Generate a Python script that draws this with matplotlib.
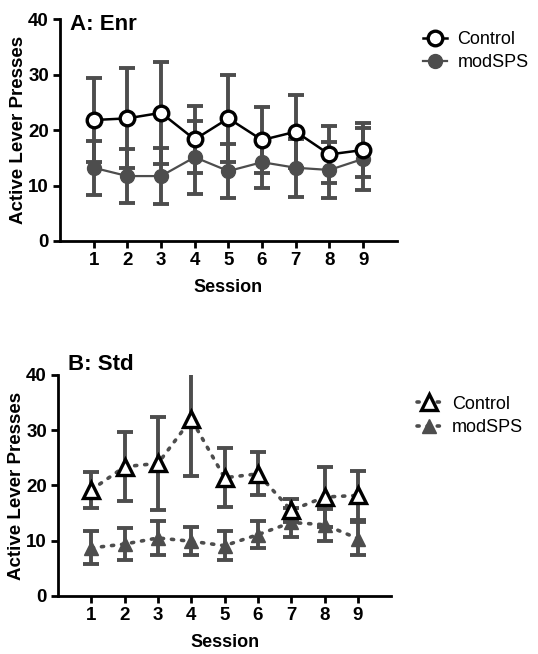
import numpy as np
import matplotlib
matplotlib.use('Agg')
import matplotlib.pyplot as plt

plt.rcParams['font.family'] = ['Liberation Sans', 'DejaVu Sans']

sessions = [1, 2, 3, 4, 5, 6, 7, 8, 9]

# Panel A: Enr
enr_ctrl_mean = [21.8, 22.1, 23.1, 18.3, 22.1, 18.2, 19.7, 15.6, 16.4]
enr_ctrl_err = [7.6, 9.0, 9.2, 6.1, 7.8, 6.0, 6.6, 5.2, 4.9]
enr_sps_mean = [13.2, 11.7, 11.7, 15.1, 12.6, 14.2, 13.2, 12.8, 14.8]
enr_sps_err = [4.9, 4.8, 5.0, 6.6, 4.9, 4.6, 5.2, 5.0, 5.6]

# Panel B: Std
std_ctrl_mean = [19.2, 23.4, 24.0, 32.0, 21.4, 22.1, 15.5, 17.9, 18.2]
std_ctrl_err = [3.2, 6.2, 8.4, 10.2, 5.3, 3.9, 2.1, 5.4, 4.4]
std_sps_mean = [8.7, 9.4, 10.5, 9.9, 9.1, 11.1, 13.3, 12.9, 10.4]
std_sps_err = [3.0, 2.9, 3.1, 2.5, 2.6, 2.5, 2.7, 2.9, 2.9]

GRAY = '#4d4d4d'


def style_axes(ax, title, title_y):
    ax.set_xlim(0, 10)
    ax.set_ylim(0, 40)
    ax.set_xticks(sessions)
    ax.set_yticks([0, 10, 20, 30, 40])
    for s in ['top', 'right']:
        ax.spines[s].set_visible(False)
    for s in ['left', 'bottom']:
        ax.spines[s].set_linewidth(2)
    ax.tick_params(width=2, length=5, labelsize=13.5, pad=3)
    for lab in ax.get_xticklabels() + ax.get_yticklabels():
        lab.set_fontweight('bold')
    ax.set_xlabel('Session', fontsize=13, fontweight='bold', labelpad=7)
    ax.set_ylabel('Active Lever Presses', fontsize=13.5, fontweight='bold', labelpad=1)
    ax.text(0.03, title_y, title, transform=ax.transAxes, fontsize=16,
            fontweight='bold', va='center', ha='left')


fig = plt.figure(figsize=(5.38, 6.54), dpi=100)

# ---------------- A ----------------
axA = fig.add_axes([0.1115, 0.6315, 0.626, 0.3394])
axA.errorbar(sessions, enr_ctrl_mean, yerr=enr_ctrl_err, fmt='none', ecolor=GRAY,
             elinewidth=2.8, capsize=6, capthick=2.8, zorder=2)
axA.errorbar(sessions, enr_sps_mean, yerr=enr_sps_err, fmt='none', ecolor=GRAY,
             elinewidth=2.8, capsize=6, capthick=2.8, zorder=2)
axA.plot(sessions, enr_sps_mean, '-o', color=GRAY, lw=1.6, ms=10,
         mfc=GRAY, mec=GRAY, zorder=3, label='modSPS')
axA.plot(sessions, enr_ctrl_mean, '-o', color='black', lw=1.8, ms=10.5,
         mfc='white', mec='black', mew=2.4, zorder=4, label='Control')
style_axes(axA, 'A: Enr', 0.975)
h, l = axA.get_legend_handles_labels()
axA.legend(h[::-1], l[::-1], loc='upper left', bbox_to_anchor=(1.03, 1.02),
           frameon=False, fontsize=13, handlelength=1.3, handletextpad=0.6,
           labelspacing=0.35)

# ---------------- B ----------------
dot = (0, (0.6, 2.2))
axB = fig.add_axes([0.108, 0.0887, 0.619, 0.338])
axB.errorbar(sessions, std_ctrl_mean, yerr=std_ctrl_err, fmt='none', ecolor=GRAY,
             elinewidth=2.8, capsize=6, capthick=2.8, zorder=2)
axB.errorbar(sessions, std_sps_mean, yerr=std_sps_err, fmt='none', ecolor=GRAY,
             elinewidth=2.8, capsize=6, capthick=2.8, zorder=2)
axB.plot(sessions, std_sps_mean, marker='^', linestyle=dot, color=GRAY, lw=2.6,
         ms=10, mfc=GRAY, mec=GRAY, dash_capstyle='round', zorder=3, label='modSPS')
axB.plot(sessions, std_ctrl_mean, marker='^', linestyle=dot, color=GRAY, lw=2.6,
         ms=11, mfc='white', mec='black', mew=2.4, dash_capstyle='round', zorder=4,
         label='Control')
style_axes(axB, 'B: Std', 1.045)
h, l = axB.get_legend_handles_labels()
axB.legend(h[::-1], l[::-1], loc='upper left', bbox_to_anchor=(1.03, 0.98),
           frameon=False, fontsize=13, handlelength=1.3, handletextpad=0.6,
           labelspacing=0.35)

fig.savefig('out.png', dpi=100)
